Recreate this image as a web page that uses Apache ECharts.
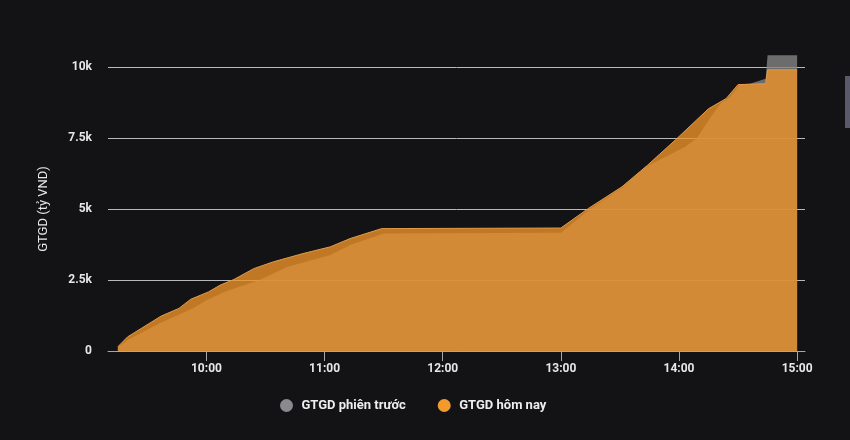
<!DOCTYPE html>
<html>
<head>
<meta charset="utf-8">
<script src="https://cdn.jsdelivr.net/npm/echarts@6/dist/echarts.min.js"></script>
<style>
html,body{margin:0;padding:0;background:#131315;}
#chart{width:850px;height:440px;}
</style>
</head>
<body>
<div id="chart"></div>
<script>
// Data (value in tỷ VND)
const prevTimes = ['09:15','09:20','09:36','09:53','10:00','10:10','10:27','10:41','11:03','11:13','11:30','13:00','13:07','13:14','13:31','13:43','14:03','14:09','14:15','14:21','14:26','14:31','14:36','14:44','14:45','15:00'];
const prevValues = [120,390,970,1500,1790,2100,2500,2960,3380,3730,4140,4160,4550,4960,5740,6480,7180,7480,8120,8710,8940,9390,9410,9590,10410,10410];
const todayTimes = ['09:15','09:20','09:27','09:37','09:46','09:52','10:01','10:07','10:14','10:24','10:34','10:49','11:03','11:13','11:29','13:00','13:14','13:31','13:44','13:58','14:15','14:24','14:30','14:44','14:45','15:00'];
const todayValues = [150,500,800,1230,1500,1820,2080,2320,2520,2900,3140,3430,3670,3960,4310,4330,5020,5780,6540,7420,8530,8890,9380,9410,9900,9900];
const xTickLabels = ['10:00','11:00','12:00','13:00','14:00','15:00'];
const seriesNames = ['GTGD phiên trước','GTGD hôm nay'];

function toMin(s){const p=s.split(':');return (+p[0])*60+(+p[1]);}
function toHHMM(m){const h=Math.floor(m/60),mm=m%60;return (h<10?'0':'')+h+':'+(mm<10?'0':'')+mm;}
const prevData = prevTimes.map((t,i)=>[toMin(t),prevValues[i]]);
const todayData = todayTimes.map((t,i)=>[toMin(t),todayValues[i]]);
const xTickVals = xTickLabels.map(toMin);

const chart = echarts.init(document.getElementById('chart'), null, {renderer:'canvas'});
chart.setOption({
  backgroundColor:'#131315',
  animation:false,
  grid:{left:108,right:45,top:67,bottom:89,containLabel:false},
  legend:{
    data:seriesNames,
    left:275, top:394,
    icon:'circle', itemWidth:20, itemHeight:13, itemGap:32,
    textStyle:{color:'#eeeeee',fontSize:13,fontWeight:'bold',fontFamily:'Roboto'}
  },
  xAxis:{
    type:'value', min:550, max:904,
    axisLine:{show:true,lineStyle:{color:'#a8a8a8',width:1}},
    axisTick:{show:true,customValues:xTickVals,length:10,lineStyle:{color:'#a8a8a8'}},
    axisLabel:{customValues:xTickVals,formatter:v=>toHHMM(v),color:'#e6e6e8',fontSize:12,fontWeight:'bold',fontFamily:'Roboto',margin:12},
    splitLine:{show:false}
  },
  yAxis:{
    type:'value', min:0, max:10000, interval:2500,
    name:'GTGD (tỷ VND)', nameLocation:'middle', nameGap:58,
    nameTextStyle:{color:'#e6e6e8',fontSize:13,fontFamily:'Roboto'},
    axisLine:{show:false}, axisTick:{show:false},
    axisLabel:{formatter:v=>v===0?'0':(v/1000)+'k',color:'#e6e6e8',fontSize:12,fontWeight:'bold',fontFamily:'Roboto',margin:16},
    splitLine:{lineStyle:{color:'#b8b8b8',width:1}}
  },
  graphic:[{type:'rect',shape:{x:845,y:76,width:5,height:52},style:{fill:'#5a596c'}}],
  series:[
    {name:seriesNames[0],type:'line',data:prevData,clip:false,symbol:'none',
     itemStyle:{color:'#8a8a8e'},
     lineStyle:{width:0},
     areaStyle:{color:'#858587',opacity:0.78},z:2},
    {name:seriesNames[1],type:'line',data:todayData,clip:false,symbol:'none',
     itemStyle:{color:'#f49a2c'},
     lineStyle:{width:1,color:'#e09a48'},
     areaStyle:{color:'#ec9228',opacity:0.8},z:3}
  ]
});
</script>
</body>
</html>
